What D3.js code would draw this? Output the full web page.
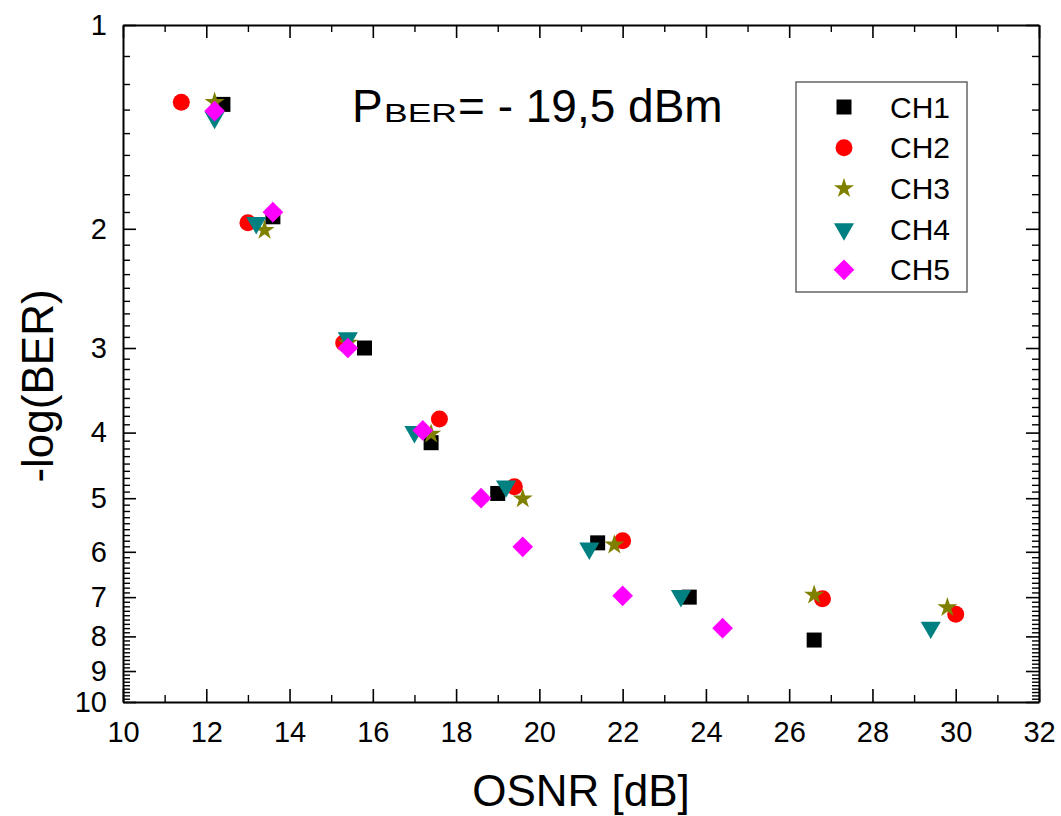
<!DOCTYPE html>
<html>
<head>
<meta charset="utf-8">
<script src="https://cdn.jsdelivr.net/npm/d3@7"></script>
<style>
  body { margin: 0; background: #fff; }
  svg text { font-family: "Liberation Sans", Arial, sans-serif; fill: #000; }
</style>
</head>
<body>
<div id="chart"></div>
<script>
// values: OSNR [dB] and -log(BER) for each channel
const ch1Osnr = [12.4, 13.6, 15.8, 17.4, 19.0, 21.4, 23.6, 26.6];
const ch1Ber  = [1.31, 1.92, 3.00, 4.14, 4.92, 5.82, 7.00, 8.10];
const ch2Osnr = [11.4, 13.0, 15.3, 17.6, 19.4, 22.0, 26.8, 30.0];
const ch2Ber  = [1.30, 1.96, 2.95, 3.82, 4.81, 5.78, 7.04, 7.42];
const ch3Osnr = [12.2, 13.4, 15.4, 17.4, 19.6, 21.8, 26.6, 29.8];
const ch3Ber  = [1.30, 2.01, 2.95, 4.02, 5.01, 5.86, 6.95, 7.25];
const ch4Osnr = [12.2, 13.2, 15.4, 17.0, 19.2, 21.2, 23.4, 29.4];
const ch4Ber  = [1.37, 1.96, 2.90, 3.99, 4.80, 5.93, 6.97, 7.76];
const ch5Osnr = [12.2, 13.6, 15.4, 17.2, 18.6, 19.6, 22.0, 24.4];
const ch5Ber  = [1.34, 1.89, 3.00, 3.97, 5.00, 5.90, 6.97, 7.78];

const channels = ["CH1", "CH2", "CH3", "CH4", "CH5"];
const xTicks = [10, 12, 14, 16, 18, 20, 22, 24, 26, 28, 30, 32];
const xMinorTicks = [11, 13, 15, 17, 19, 21, 23, 25, 27, 29, 31];
const yTicks = [1, 2, 3, 4, 5, 6, 7, 8, 9, 10];

const series = [
    [ch1Osnr, ch1Ber], [ch2Osnr, ch2Ber], [ch3Osnr, ch3Ber],
    [ch4Osnr, ch4Ber], [ch5Osnr, ch5Ber]
].map((s, i) => ({
    name: channels[i],
    points: s[0].map((v, j) => [v, s[1][j]])
}));

// minor ticks: 8 linear steps between each pair of integers
const yMinorTicks = d3.range(1, 10).flatMap(i => d3.range(1, 9).map(j => i + j / 9));

const width = 1061, height = 816;
const margin = { top: 25, right: 22, bottom: 114, left: 123 };
const w = width - margin.left - margin.right;
const h = height - margin.top - margin.bottom;

const svg = d3.select("#chart")
    .append("svg")
    .attr("width", width)
    .attr("height", height)
    .append("g")
    .attr("transform", "translate(" + margin.left + "," + margin.top + ")");

const x = d3.scaleLinear().domain([10, 32]).range([0, w]);
const y = d3.scaleLog().domain([1, 10]).range([0, h]);

const color = d3.scaleOrdinal()
    .domain(channels)
    .range(["#000000", "#ff0000", "#808000", "#008080", "#ff00ff"]);

// marker shapes per channel
const shapes = {
    CH1: { path: d3.symbol(d3.symbolSquare, 225)(), rot: 0 },
    CH2: { path: d3.symbol(d3.symbolCircle, 227)(), rot: 0 },
    CH3: { path: d3.symbol(d3.symbolStar, 125)(), rot: 0 },
    CH4: { path: d3.symbol(d3.symbolTriangle, 175)(), rot: 180 },
    CH5: { path: d3.symbol(d3.symbolSquare, 214)(), rot: 45 }
};

// axes: ticks inward on all four sides, labels on left and bottom only
function styleAxis(g, fontSize) {
    g.select(".domain").attr("stroke", "#000").attr("stroke-width", 2);
    g.selectAll(".tick line").attr("stroke", "#000").attr("stroke-width", 1.6);
    g.selectAll("text").style("font-size", fontSize + "px").attr("fill", "#000");
}

function addAxis(axisFn, scale, transform, withLabels, padding) {
    const minor = svg.append("g").attr("transform", transform)
        .call(axisFn(scale).tickValues(scale === x ? xMinorTicks : yMinorTicks)
            .tickSizeInner(-7).tickSizeOuter(0).tickFormat(""));
    minor.select(".domain").remove();
    minor.selectAll(".tick line").attr("stroke", "#000").attr("stroke-width", 1.4);

    const major = svg.append("g").attr("transform", transform)
        .call(axisFn(scale).tickValues(scale === x ? xTicks : yTicks)
            .tickSizeInner(-13).tickSizeOuter(0).tickPadding(padding)
            .tickFormat(withLabels ? d3.format("d") : ""));
    styleAxis(major, 29);
}

addAxis(d3.axisBottom, x, "translate(0," + h + ")", true, 19);
addAxis(d3.axisTop, x, "translate(0,0)", false, 0);
addAxis(d3.axisLeft, y, "translate(0,0)", true, 16);
addAxis(d3.axisRight, y, "translate(" + w + ",0)", false, 0);

// axis titles
svg.append("text")
    .attr("x", 581 - margin.left)
    .attr("y", 806 - margin.top)
    .style("text-anchor", "middle")
    .style("font-size", "44px")
    .text("OSNR [dB]");

svg.append("text")
    .attr("transform", "translate(" + (53 - margin.left) + "," + (386 - margin.top) + ") rotate(-90)")
    .style("text-anchor", "middle")
    .style("font-size", "44px")
    .text("-log(BER)");

// annotation
const note = svg.append("g").attr("transform", "translate(" + (-margin.left) + "," + (-margin.top) + ")");
note.append("text").attr("x", 352).attr("y", 122).style("font-size", "46px").text("P");
note.append("text").attr("x", 384).attr("y", 122).style("font-size", "25px")
    .attr("textLength", 73).attr("lengthAdjust", "spacingAndGlyphs").text("BER");
note.append("text").attr("x", 458).attr("y", 122).style("font-size", "46px").text("= - 19,5 dBm");

// data points
svg.selectAll("g.series")
    .data(series)
    .join("g")
    .classed("series", true)
    .attr("fill", d => color(d.name))
    .selectAll("path")
    .data(d => d.points.map(p => ({ name: d.name, p: p })))
    .join("path")
    .attr("d", d => shapes[d.name].path)
    .attr("transform", d => "translate(" + x(d.p[0]) + "," + y(d.p[1]) + ") rotate(" + shapes[d.name].rot + ")");

// legend
const legend = svg.append("g").attr("transform", "translate(" + (-margin.left) + "," + (-margin.top) + ")");
legend.append("rect")
    .attr("x", 796).attr("y", 82).attr("width", 171).attr("height", 210)
    .attr("fill", "#fff").attr("stroke", "#666").attr("stroke-width", 1.5);

const rows = legend.selectAll("g.row")
    .data(channels)
    .join("g")
    .classed("row", true)
    .attr("transform", (d, i) => "translate(0," + (107 + i * 40.7) + ")");

rows.append("path")
    .attr("d", d => shapes[d].path)
    .attr("fill", d => color(d))
    .attr("transform", d => "translate(844,0) rotate(" + shapes[d].rot + ")");

rows.append("text")
    .attr("x", 890)
    .attr("y", 10.5)
    .style("font-size", "30px")
    .text(d => d);
</script>
</body>
</html>
